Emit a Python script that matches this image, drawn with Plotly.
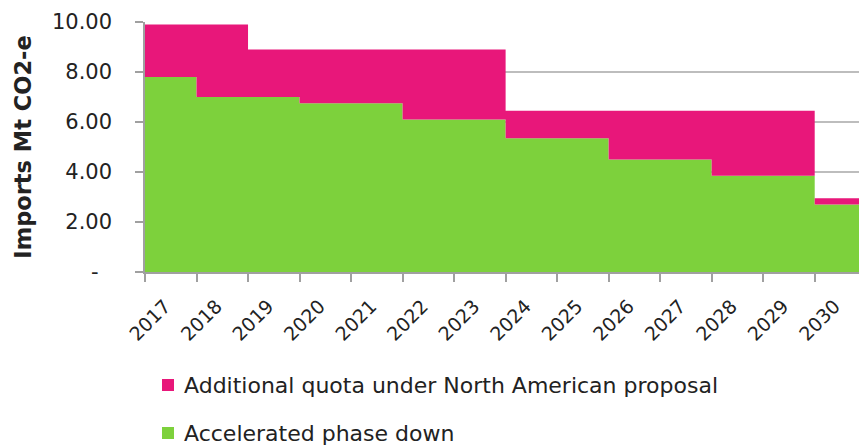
import plotly.graph_objects as go

years = [2017, 2018, 2019, 2020, 2021, 2022, 2023, 2024, 2025, 2026, 2027, 2028, 2029, 2030]
accelerated = [7.8, 7.0, 7.0, 6.75, 6.75, 6.1, 6.1, 5.35, 5.35, 4.5, 4.5, 3.85, 3.85, 2.7]
additional = [2.1, 2.9, 1.9, 2.15, 2.15, 2.8, 2.8, 1.1, 1.1, 1.95, 1.95, 2.6, 2.6, 0.25]
series_names = ["Additional quota under North American proposal", "Accelerated phase down"]
tick_labels = [str(y) for y in years]
yticks = [0, 2, 4, 6, 8, 10]
ytick_labels = ["-\u00a0\u00a0", "2.00", "4.00", "6.00", "8.00", "10.00"]

GREEN = "#7DD13C"
PINK = "#E8177A"
TEXT = "#222222"
FONT = "DejaVu Sans, Verdana, sans-serif"

W, H = 859, 445
ML, MR, MT, MB = 145, 0, 22, 173
PW, PH = W - ML - MR, H - MT - MB

# step edges: each year's value runs until the next year
x_edges = years + [years[-1] + 1]
green_vals = accelerated + [accelerated[-1]]
total = [a + b for a, b in zip(accelerated, additional)]
total_vals = total + [total[-1]]

fig = go.Figure()
fig.add_trace(go.Scatter(
    x=x_edges, y=green_vals, mode="lines", line=dict(shape="hv", width=0, color=GREEN),
    fill="tozeroy", fillcolor=GREEN, name=series_names[1], showlegend=False,
))
fig.add_trace(go.Scatter(
    x=x_edges, y=total_vals, mode="lines", line=dict(shape="hv", width=0, color=PINK),
    fill="tonexty", fillcolor=PINK, name=series_names[0], showlegend=False,
))


def px_to_paper(px, py):
    return (px - ML) / PW, (H - MB - py) / PH


# manual legend (square swatch + label), positioned in pixels
legend_rows = [(series_names[0], PINK, 385), (series_names[1], GREEN, 433)]
for name, color, cy in legend_rows:
    x0, y0 = px_to_paper(162, cy - 6)
    x1, y1 = px_to_paper(174, cy + 6)
    fig.add_shape(type="rect", xref="paper", yref="paper", x0=x0, x1=x1, y0=y0, y1=y1,
                  fillcolor=color, line=dict(width=0))
    tx, ty = px_to_paper(182, cy)
    fig.add_annotation(xref="paper", yref="paper", x=tx, y=ty, xanchor="left", yanchor="middle",
                       text=name, showarrow=False,
                       font=dict(family=FONT, size=22, color=TEXT))

fig.update_layout(
    template="none",
    width=W, height=H,
    margin=dict(l=ML, r=MR, t=MT, b=MB, pad=0),
    plot_bgcolor="white", paper_bgcolor="white",
    font=dict(family=FONT, size=20, color=TEXT),
    showlegend=False,
    xaxis=dict(
        automargin=False,
        range=[2017, 2030.86], tickmode="array", tickvals=years, ticktext=tick_labels,
        tickangle=-45, ticks="outside", ticklen=8, tickcolor="#A0A0A0", tickwidth=1.5,
        ticklabelshift=20, ticklabelstandoff=6,
        showline=True, linecolor="#A0A0A0", linewidth=1.5, showgrid=False,
        zeroline=False, tickfont=dict(family=FONT, size=19, color=TEXT),
    ),
    yaxis=dict(
        automargin=False,
        range=[0, 10], tickmode="array", tickvals=yticks, ticktext=ytick_labels,
        ticks="outside", ticklen=8, tickcolor="#A0A0A0", tickwidth=1.5,
        ticklabelstandoff=19,
        showline=True, linecolor="#A0A0A0", linewidth=1.5,
        showgrid=True, gridcolor="#BDBDBD", gridwidth=1.5, zeroline=False,
        tickfont=dict(family=FONT, size=21, color=TEXT),
        title=dict(text="<b>Imports Mt CO2-e</b>", standoff=14,
                   font=dict(family=FONT, size=22.5, color=TEXT)),
    ),
)

fig.write_html(
    "out.html",
    config={"displayModeBar": False},
    post_script="document.body.style.margin='0';document.body.style.overflow='hidden';",
)
